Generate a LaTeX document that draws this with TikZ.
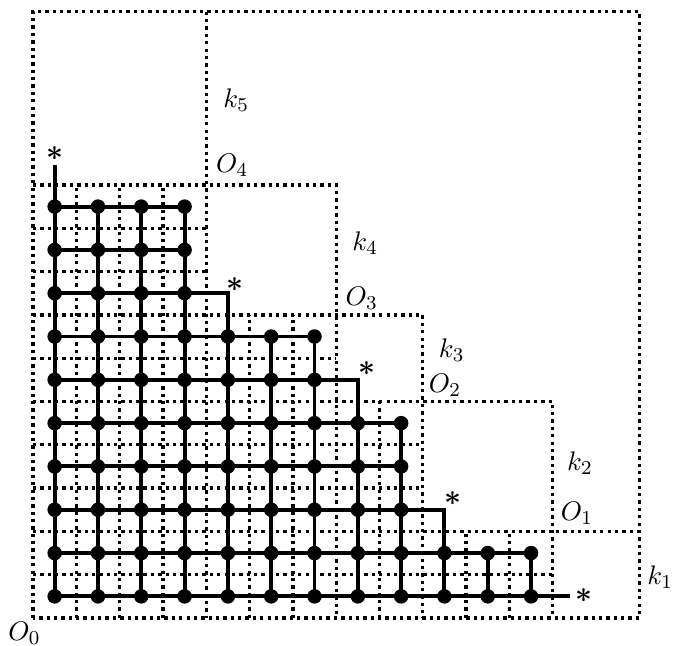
\documentclass[tikz,border=0pt]{standalone}
\usepackage{bm}
\usetikzlibrary{calc}
\begin{document}
\begin{tikzpicture}[x=0.62cm,y=0.62cm,
  dot/.style={circle,fill=black,inner sep=0pt,minimum size=5.9pt},
  path/.style={line width=1.6pt},
  grid/.style={line width=1.35pt,dash pattern=on 1.35pt off 1.65pt},
  lab/.style={inner sep=0pt,font=\fontsize{11}{13}\selectfont},
  starlab/.style={inner sep=0pt,font=\large}]
\useasboundingbox (-0.762,-0.624) rectangle (14.80,14.27);
\fill[white] (-0.762,-0.624) rectangle (14.80,14.27);
% dashed frames and grid
\draw[grid] (0,0) rectangle (14,14);
\draw[grid] (4,14) -- (4,0);
\draw[grid] (0,10) -- (7,10) -- (7,0);
\draw[grid] (0,7) -- (9,7) -- (9,0);
\draw[grid] (0,5) -- (12,5) -- (12,0);
\draw[grid] (0,2) -- (14,2);
\foreach \i in {1,2,3} \draw[grid] (\i,0) -- (\i,10);
\foreach \i in {5,6} \draw[grid] (\i,0) -- (\i,7);
\draw[grid] (8,0) -- (8,5);
\foreach \i in {10,11} \draw[grid] (\i,0) -- (\i,2);
\draw[grid] (0,1) -- (12,1);
\foreach \j in {3,4} \draw[grid] (0,\j) -- (9,\j);
\draw[grid] (0,6) -- (7,6);
\foreach \j in {8,9} \draw[grid] (0,\j) -- (4,\j);
% dots
\foreach \j/\e in {0/11,1/11,2/8,3/8,4/8,5/6,6/6,7/3,8/3,9/3}
  \foreach \i in {0,...,\e}
    \node[dot] (d-\i-\j) at (\i+0.5,\j+0.5) {};
\coordinate (c1) at (0.5,10.47);
\coordinate (c2) at (4.5,7.5);
\coordinate (c3) at (7.5,5.5);
\coordinate (c4) at (9.5,2.5);
\coordinate (c5) at (12.4,0.5);
% solid paths
\draw[path] (d-0-0.center) -- (c5);
\draw[path] (d-0-1.center) -- (d-11-1.center);
\draw[path] (d-0-2.center) -- (c4) -- (d-9-0.center);
\foreach \j in {3,4} \draw[path] (d-0-\j.center) -- (d-8-\j.center);
\draw[path] (d-0-5.center) -- (c3) -- (d-7-0.center);
\draw[path] (d-0-6.center) -- (d-6-6.center);
\draw[path] (d-0-7.center) -- (c2) -- (d-4-0.center);
\foreach \j in {8,9} \draw[path] (d-0-\j.center) -- (d-3-\j.center);
\draw[path] (d-0-0.center) -- (c1);
\foreach \i in {1,2,3} \draw[path] (d-\i-0.center) -- (d-\i-9.center);
\foreach \i in {5,6} \draw[path] (d-\i-0.center) -- (d-\i-6.center);
\draw[path] (d-8-0.center) -- (d-8-4.center);
\foreach \i in {10,11} \draw[path] (d-\i-0.center) -- (d-\i-1.center);
% stars
\node[starlab] (s1) at (0.51,10.72) {$\bm{\ast}$};
\node[starlab] (s2) at (4.66,7.69) {$\bm{\ast}$};
\node[starlab] (s3) at (7.71,5.77) {$\bm{\ast}$};
\node[starlab] (s4) at (9.70,2.75) {$\bm{\ast}$};
\node[starlab] (s5) at (12.72,0.51) {$\bm{\ast}$};
% labels
\node[lab] (k5) at (4.69,11.96) {$k_5$};
\node[lab] (O4) at (4.60,10.46) {$O_4$};
\node[lab] (k4) at (7.67,8.66) {$k_4$};
\node[lab] (O3) at (7.59,7.39) {$O_3$};
\node[lab] (k3) at (9.67,6.19) {$k_3$};
\node[lab] (O2) at (9.51,5.38) {$O_2$};
\node[lab] (k2) at (12.63,3.58) {$k_2$};
\node[lab] (O1) at (12.56,2.42) {$O_1$};
\node[lab] (k1) at (14.48,0.95) {$k_1$};
\node[lab] (O0) at (-0.20,-0.36) {$O_0$};
\end{tikzpicture}
\end{document}
